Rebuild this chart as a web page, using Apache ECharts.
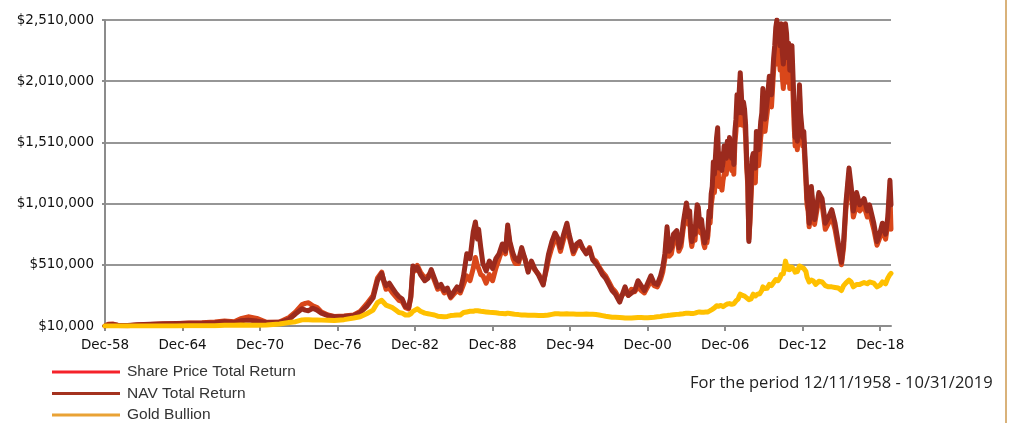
<!DOCTYPE html>
<html>
<head>
<meta charset="utf-8">
<script src="https://cdn.jsdelivr.net/npm/echarts@6/dist/echarts.min.js"></script>
<style>
html,body{margin:0;padding:0;background:#fff;}
#chart{width:1012px;height:423px;}
</style>
</head>
<body>
<div id="chart"></div>
<script>
// Dates (year-month) and values in thousands of US dollars
const dates = [
'1958-12','1959-03','1959-07','1959-12','1960-09','1961-06','1962-06','1963-06','1964-06','1965-06',
'1966-06','1967-06','1968-03','1968-12','1969-06','1970-01','1970-09','1971-06','1972-06','1973-03',
'1973-09','1974-03','1974-06','1974-09','1975-01','1975-05','1975-09','1976-03','1976-09','1977-06',
'1978-03','1978-09','1979-03','1979-09','1980-01','1980-05','1980-07','1980-09','1980-12','1981-03',
'1981-06','1981-09','1981-12','1982-03','1982-06','1982-08','1982-10','1982-12','1983-02','1983-05',
'1983-09','1983-12','1984-03','1984-06','1984-09','1984-12','1985-03','1985-06','1985-09','1985-12',
'1986-03','1986-06','1986-09','1986-12','1987-03','1987-06','1987-08','1987-10','1987-11','1988-01',
'1988-03','1988-06','1988-09','1988-12','1989-03','1989-06','1989-09','1989-12','1990-02','1990-04',
'1990-07','1990-09','1990-12','1991-03','1991-06','1991-09','1991-12','1992-03','1992-07','1992-11',
'1993-02','1993-04','1993-07','1993-10','1994-01','1994-03','1994-06','1994-09','1994-11','1995-03',
'1995-06','1995-09','1995-12','1996-03','1996-06','1996-09','1996-12','1997-03','1997-06','1997-09',
'1997-12','1998-03','1998-06','1998-10','1999-01','1999-03','1999-06','1999-09','1999-12','2000-03',
'2000-06','2000-09','2000-12','2001-03','2001-06','2001-09','2001-12','2002-02','2002-04','2002-06',
'2002-08','2002-10','2002-12','2003-03','2003-05','2003-07','2003-09','2003-12',
'2004-01','2004-02','2004-03','2004-04','2004-05','2004-06','2004-07','2004-08','2004-09','2004-10','2004-11','2004-12',
'2005-01','2005-02','2005-03','2005-04','2005-05','2005-06','2005-07','2005-08','2005-09','2005-10','2005-11','2005-12',
'2006-01','2006-02','2006-03','2006-04','2006-05','2006-06','2006-07','2006-08','2006-09','2006-10','2006-11','2006-12',
'2007-01','2007-02','2007-03','2007-04','2007-05','2007-06','2007-07','2007-08','2007-09','2007-10','2007-11','2007-12',
'2008-01','2008-02','2008-03','2008-04','2008-05','2008-06','2008-07','2008-08','2008-09','2008-10','2008-11','2008-12',
'2009-01','2009-02','2009-03','2009-04','2009-05','2009-06','2009-07','2009-08','2009-09','2009-10','2009-11','2009-12',
'2010-01','2010-02','2010-03','2010-04','2010-05','2010-06','2010-07','2010-08','2010-09','2010-10','2010-11','2010-12',
'2011-01','2011-02','2011-03','2011-04','2011-05','2011-06','2011-07','2011-08','2011-09','2011-10','2011-11','2011-12',
'2012-01','2012-02','2012-03','2012-04','2012-05','2012-06','2012-07','2012-08','2012-09','2012-10','2012-11','2012-12',
'2013-01','2013-02','2013-03','2013-04','2013-05','2013-06','2013-07','2013-08','2013-09','2013-10','2013-11','2013-12',
'2014-03','2014-06','2014-09','2014-12','2015-03','2015-06','2015-09','2015-12','2016-02','2016-04',
'2016-07','2016-09','2016-11','2017-02','2017-05','2017-09','2017-12','2018-02','2018-06','2018-09',
'2018-12','2019-02','2019-05','2019-07','2019-09','2019-10'];

const navTR = [
10,20,22,16,14,20,24,28,30,33,
32,36,44,38,52,58,50,38,40,65,
110,150,140,135,155,140,115,95,85,88,
95,120,170,240,380,440,380,340,360,320,
280,250,230,170,160,250,500,470,490,430,
380,400,470,400,330,350,300,320,250,290,
330,300,420,600,560,780,860,720,800,650,
520,460,540,480,560,600,680,620,835,700,
600,560,540,650,560,450,540,480,420,345,
500,600,700,770,720,650,760,850,760,620,
680,700,640,600,640,550,520,480,430,400,
350,300,270,205,280,330,260,280,300,380,
340,300,360,420,360,350,420,490,600,820,
620,650,760,790,650,700,850,1015,
1000,900,950,780,700,760,820,760,900,1000,980,880,
820,880,800,720,690,760,730,800,950,900,1090,1150,
1350,1250,1400,1550,1630,1300,1420,1380,1280,1350,1480,1420,
1380,1520,1400,1550,1450,1380,1500,1330,1600,1700,1900,1750,
1920,2080,1900,1750,1840,1780,1650,1350,1200,700,900,1150,
1380,1420,1330,1300,1600,1500,1450,1550,1680,1750,1950,1800,
1700,1780,1850,1950,2050,2000,1900,2050,2200,2300,2450,2510,
2350,2420,2300,2480,2250,2150,2300,2480,2400,2200,2320,2100,
2250,2300,2050,1800,1550,1650,1520,1700,1980,1750,1650,1550,
1600,1420,1250,1050,1000,850,950,1150,1050,950,880,870,
1100,1050,850,900,960,850,690,530,700,1000,
1300,1150,950,1100,1000,1050,950,1000,850,700,
780,850,760,900,1200,1000];

const sharePriceTR = [
10,24,26,15,13,18,22,27,29,35,
36,42,50,44,70,85,72,40,42,80,
125,185,195,200,175,160,125,100,88,92,
100,130,190,260,400,450,370,310,320,280,
250,220,210,160,150,240,480,460,505,450,
400,420,450,380,310,330,280,300,240,270,
300,280,350,420,380,480,570,500,480,430,
420,360,430,380,480,560,640,600,800,680,
560,520,520,620,560,470,520,470,430,360,
470,560,650,720,690,620,720,800,740,600,
660,680,640,610,650,560,540,490,450,420,
370,320,290,230,270,290,260,310,290,330,
300,280,330,380,340,330,390,450,560,760,
580,600,700,740,620,660,800,950,
940,840,890,730,660,710,770,710,840,940,920,830,
770,820,750,680,650,710,690,750,890,850,1000,1060,
1200,1100,1250,1400,1480,1150,1200,1180,1120,1200,1250,1250,
1250,1350,1300,1420,1350,1280,1380,1250,1500,1600,1800,1650,
1850,2000,1800,1650,1750,1700,1550,1300,1150,720,850,1050,
1250,1280,1200,1180,1450,1350,1320,1420,1550,1620,1800,1680,
1600,1680,1750,1850,1950,1900,1800,1950,2100,2200,2300,2400,
2150,2250,2100,2300,2050,1950,2100,2350,2250,2000,2150,1950,
2100,2150,1900,1650,1480,1580,1450,1620,1900,1680,1580,1480,
1520,1350,1180,1000,950,820,900,1100,1000,900,840,830,
1050,1000,800,850,900,800,650,510,650,950,
1250,1100,900,1000,950,990,900,940,800,670,
740,800,720,850,1100,800];

const goldBullion = [
10,10,10,10,11,11,11,11,11,12,
12,12,16,17,18,17,16,18,26,38,
45,60,62,62,60,60,58,56,55,62,
75,85,110,140,200,220,200,180,170,160,
140,120,115,100,100,110,130,140,150,130,
115,110,105,100,90,88,85,88,95,97,
100,100,120,125,130,130,135,135,135,130,
128,125,122,120,118,115,113,110,115,112,
108,105,103,100,99,98,97,97,96,95,
97,100,105,110,110,108,108,110,109,108,
107,107,107,108,107,106,104,100,95,90,
86,82,82,80,78,76,75,75,78,80,
80,78,78,80,82,85,88,92,94,95,
97,100,102,105,106,108,110,115,
115,115,116,112,110,112,114,115,117,121,124,125,
121,122,124,123,121,124,122,125,131,135,137,146,
157,158,159,175,189,171,181,178,170,168,177,180,
180,190,187,193,189,187,190,191,203,215,225,230,
253,270,275,260,253,254,268,240,235,225,215,232,
245,270,265,255,265,270,270,273,285,300,330,320,
316,315,318,330,350,355,340,350,365,380,390,400,
380,390,405,430,435,437,450,540,530,475,500,470,
470,490,475,470,450,450,455,465,500,500,490,475,
480,470,455,410,400,370,375,385,380,377,365,350,
375,370,340,330,330,325,320,300,340,360,
385,370,330,350,350,365,355,370,360,330,
345,370,355,400,430,440];

const seriesNames = ['Share Price Total Return','NAV Total Return','Gold Bullion'];
const lineColors = ['#d9471a','#9b2a1d','#ffc000'];
const legendColors = ['#f5222a','#a4321f','#e9a235'];
const xTickLabels = ['Dec-58','Dec-64','Dec-70','Dec-76','Dec-82','Dec-88','Dec-94','Dec-00','Dec-06','Dec-12','Dec-18'];

function monthIndex(s){
  const p = s.split('-');
  return (parseInt(p[0],10)-1958)*12 + (parseInt(p[1],10)-12);
}
const xs = dates.map(monthIndex);
function pairs(arr){ return arr.map((v,i)=>[xs[i], v*1000]); }
const xTickValues = xTickLabels.map((l,i)=>i*72);

function fmtMoney(v){
  return '$' + Math.round(v).toString().replace(/\B(?=(\d{3})+(?!\d))/g, ',');
}

const chart = echarts.init(document.getElementById('chart'), null, {renderer:'canvas'});
const dataSets = [sharePriceTR, navTR, goldBullion];
const axisFont = 'DejaVu Sans, Liberation Sans, sans-serif';
chart.setOption({
  animation:false,
  backgroundColor:'#ffffff',
  grid:{left:105, right:121, top:20, bottom:97, containLabel:false},
  xAxis:{
    type:'value', min:0, max:730, interval:72,
    axisLine:{show:true, lineStyle:{color:'#8c8c8c', width:2}},
    axisTick:{show:true, length:5, lineStyle:{color:'#8c8c8c', width:2}, customValues:xTickValues},
    axisLabel:{color:'#111', fontFamily:axisFont, fontSize:13.5, margin:12,
      customValues:xTickValues,
      formatter:function(v){ const i=Math.round(v/72); return xTickLabels[i]||''; }},
    splitLine:{show:false}
  },
  yAxis:{
    type:'value', min:10000, max:2510000, interval:500000,
    axisLine:{show:true, lineStyle:{color:'#8c8c8c', width:2}},
    axisTick:{show:true, length:3, lineStyle:{color:'#8c8c8c', width:2}},
    axisLabel:{color:'#111', fontFamily:axisFont, fontSize:13.5, margin:11,
      formatter:function(v){ return fmtMoney(v); }},
    splitLine:{show:true, lineStyle:{color:'#969696', width:2}}
  },
  legend:{
    orient:'vertical', left:52, top:364, height:80, padding:0,
    icon:'rect', itemWidth:68, itemHeight:3, itemGap:5.5,
    textStyle:{color:'#333', fontFamily:'Liberation Sans, Arial, sans-serif', fontSize:15.5, lineHeight:16, padding:[0,0,0,2]},
    data: seriesNames.map((n,i)=>({name:n, itemStyle:{color:legendColors[i]}}))
  },
  graphic:[
    {type:'text', left:690, top:375, style:{text:'For the period 12/11/1958 - 10/31/2019', fill:'#222',
      font:'16.5px "Open Sans", "Liberation Sans", sans-serif'}},
    {type:'line', shape:{x1:1006, y1:0, x2:1006, y2:423}, style:{stroke:'#d9b27a', lineWidth:2}}
  ],
  series: dataSets.map((arr,i)=>({
    name:seriesNames[i], type:'line', data:pairs(arr), showSymbol:false, symbol:'none',
    lineStyle:{color:lineColors[i], width:5, join:'round', cap:'round'},
    itemStyle:{color:lineColors[i]}, smooth:false, clip:true
  }))
});
</script>
</body>
</html>
